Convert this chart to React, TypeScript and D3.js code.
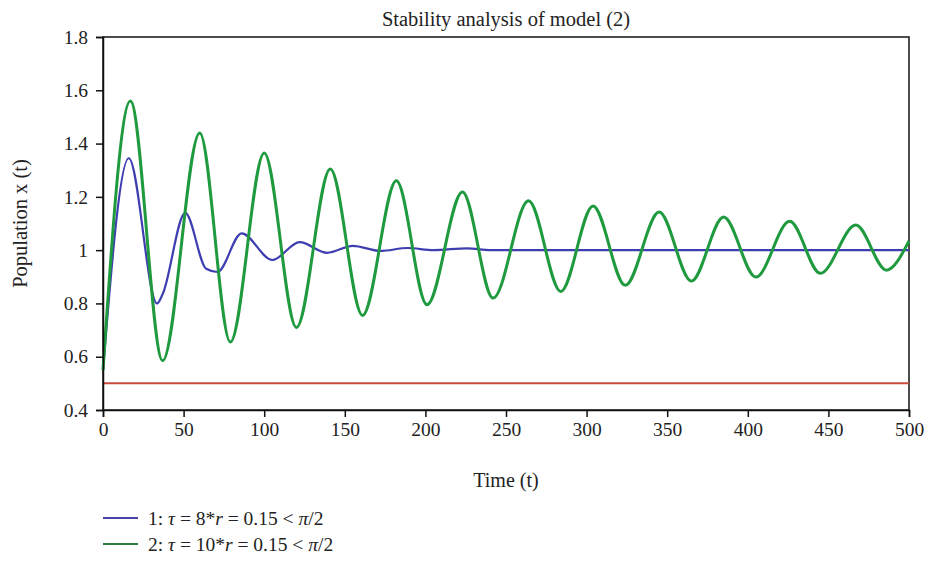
import React, { useEffect, useRef } from 'react';
import * as d3 from 'd3';

// Time / value pairs (peaks, troughs and a few kinks)
const greenT = [0, 17, 37, 60, 79, 100, 120, 141, 161, 182, 201, 223, 242, 264, 284, 304, 324, 345, 365, 385, 405, 426, 445, 467, 486, 500];
const greenV = [0.55, 1.56, 0.585, 1.44, 0.655, 1.365, 0.71, 1.305, 0.755, 1.26, 0.795, 1.218, 0.82, 1.185, 0.845, 1.166, 0.868, 1.143, 0.884, 1.124, 0.899, 1.108, 0.913, 1.094, 0.925, 1.035];

const blueT = [0, 16, 33.5, 37, 51, 64, 71, 86, 105, 122, 139, 155, 172, 189, 205, 226, 240, 500];
const blueV = [0.55, 1.345, 0.8, 0.835, 1.14, 0.93, 0.918, 1.063, 0.963, 1.03, 0.99, 1.016, 0.997, 1.008, 1.0, 1.007, 1.0, 1.0];

const redT = [0, 500];
const redV = [0.5, 0.5];

const xTicks = [0, 50, 100, 150, 200, 250, 300, 350, 400, 450, 500];
const yTicks = [0.4, 0.6, 0.8, 1, 1.2, 1.4, 1.6, 1.8];

const legendItems = [
  { color: '#4545a8', parts: [['1: ', false], ['τ', true], [' = 8*', false], ['r', true], [' = 0.15 < ', false], ['π', true], ['/2', false]] },
  { color: '#2a7d3c', parts: [['2: ', false], ['τ', true], [' = 10*', false], ['r', true], [' = 0.15 < ', false], ['π', true], ['/2', false]] },
];

const FONT = '"Liberation Serif", "Times New Roman", serif';

const App = () => {
  const ref = useRef<SVGSVGElement>(null);

  useEffect(() => {
    const svg = d3.select(ref.current);
    svg.selectAll('*').remove();

    const margin = { top: 37, right: 18, bottom: 151, left: 103 };
    const W = 927, H = 561;
    const x = d3.scaleLinear().domain([0, 500]).range([margin.left, W - margin.right]);
    const y = d3.scaleLinear().domain([0.4, 1.8]).range([H - margin.bottom, margin.top]);

    // frame
    svg.append('rect')
      .attr('x', x(0)).attr('y', y(1.8))
      .attr('width', x(500) - x(0)).attr('height', y(0.4) - y(1.8))
      .attr('fill', 'none').attr('stroke', '#111').attr('stroke-width', 1.5);

    const line = d3.line<[number, number]>()
      .x(d => x(d[0])).y(d => y(d[1]))
      .curve(d3.curveMonotoneX);

    const series = [
      { t: redT, v: redV, color: '#c84b3c', w: 2 },
      { t: blueT, v: blueV, color: '#3e3eb0', w: 2.2 },
      { t: greenT, v: greenV, color: '#1f9a3e', w: 3 },
    ];
    series.forEach(s => {
      svg.append('path')
        .datum(s.t.map((t, i) => [t, s.v[i]] as [number, number]))
        .attr('d', line)
        .attr('fill', 'none')
        .attr('stroke', s.color)
        .attr('stroke-width', s.w)
        .attr('stroke-linejoin', 'round');
    });

    const xAxis = svg.append('g')
      .attr('transform', `translate(0,${y(0.4)})`)
      .call(d3.axisBottom(x).tickValues(xTicks).tickSize(7).tickPadding(5).tickFormat(d3.format('d')));
    const yAxis = svg.append('g')
      .attr('transform', `translate(${x(0)},0)`)
      .call(d3.axisLeft(y).tickValues(yTicks).tickSize(7).tickPadding(8).tickFormat(d3.format('~g')));
    [xAxis, yAxis].forEach(g => {
      g.select('.domain').attr('stroke', '#111').attr('stroke-width', 1.5);
      g.selectAll('line').attr('stroke', '#111').attr('stroke-width', 1.5);
      g.selectAll('text').attr('font-family', FONT).attr('font-size', 19.5).attr('fill', '#222');
    });

    // titles
    svg.append('text')
      .attr('x', (x(0) + x(500)) / 2).attr('y', 26)
      .attr('text-anchor', 'middle')
      .attr('font-family', FONT).attr('font-size', 20.5).attr('fill', '#222')
      .text('Stability analysis of model (2)');
    svg.append('text')
      .attr('x', (x(0) + x(500)) / 2).attr('y', 487)
      .attr('text-anchor', 'middle')
      .attr('font-family', FONT).attr('font-size', 20).attr('fill', '#222')
      .text('Time (t)');
    svg.append('text')
      .attr('transform', `translate(27,${(y(0.4) + y(1.8)) / 2}) rotate(-90)`)
      .attr('text-anchor', 'middle')
      .attr('font-family', FONT).attr('font-size', 20.5).attr('fill', '#222')
      .text('Population x (t)');

    // legend
    legendItems.forEach((item, i) => {
      const ly = 518 + i * 26;
      svg.append('line')
        .attr('x1', 103).attr('x2', 138).attr('y1', ly).attr('y2', ly)
        .attr('stroke', item.color).attr('stroke-width', 2);
      const txt = svg.append('text')
        .attr('x', 148).attr('y', ly + 7)
        .attr('font-family', FONT).attr('font-size', 19.5).attr('fill', '#222');
      item.parts.forEach(([s, it]) => {
        txt.append('tspan').attr('font-style', it ? 'italic' : 'normal').text(s as string);
      });
    });
  }, []);

  return <svg ref={ref} width={927} height={561} style={{ position: 'absolute', left: 0, top: 0, background: '#fff' }} />;
};

export default App;
